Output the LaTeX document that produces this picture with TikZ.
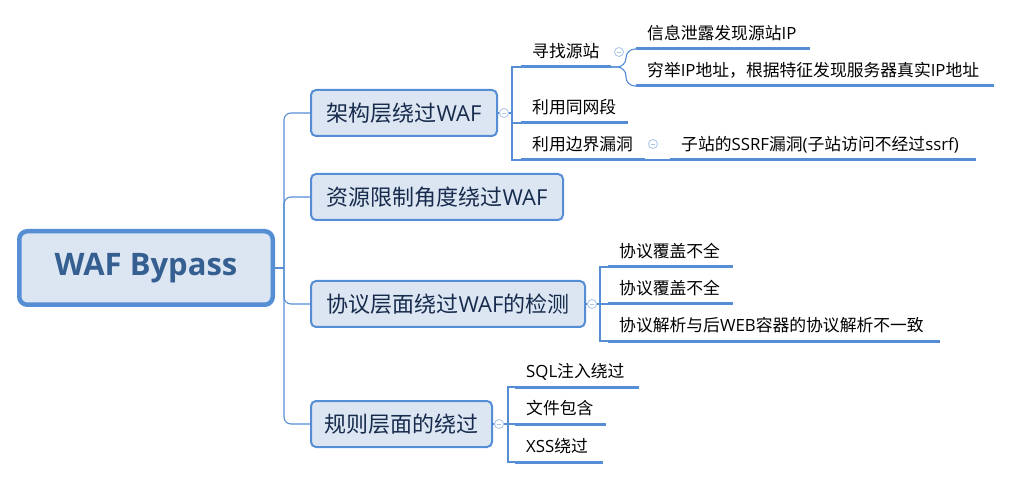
\documentclass[tikz,border=0pt]{standalone}
\usepackage{fontspec}
\setmainfont{Open Sans}
\newfontfamily\cjk{Noto Sans CJK SC}
\newcommand\zh[1]{{\cjk #1}}
\definecolor{mblue}{RGB}{85,142,213}
\definecolor{mfill}{RGB}{220,230,242}
\definecolor{cring}{RGB}{170,196,232}
\definecolor{ltext}{RGB}{23,43,77}
\definecolor{rtext}{RGB}{54,95,145}
\tikzset{
  conn/.style={draw=mblue, line width=1.1pt},
  ul/.style={draw=mblue, line width=3pt},
  rootbox/.style={draw=mblue, fill=mfill, line width=4.5pt, rounded corners=8pt,
    minimum width=253.5pt, minimum height=73.5pt, inner sep=0pt,
    font=\fontsize{31}{36}\selectfont\bfseries, text=rtext},
  topic/.style={draw=mblue, fill=mfill, line width=2pt, rounded corners=5pt,
    minimum height=46pt, anchor=west, inner sep=0pt,
    font=\fontsize{22}{26}\selectfont, text=ltext},
  leaf/.style={anchor=south west, inner xsep=11pt, inner ysep=0pt,
    text height=13pt, text depth=9.5pt, font=\fontsize{16.8}{20}\selectfont, text=black},
  fold/.style={circle, draw=cring, fill=white, line width=0.8pt, minimum size=9pt, inner sep=0pt,
    path picture={\draw[cring, line width=0.8pt]
      ([xshift=-2.3pt]path picture bounding box.center) --
      ([xshift=2.3pt]path picture bounding box.center);}}
}
\newcommand\leaf[5]{\node[leaf] (#1) at (#2,#3) {#5};
  \draw[ul] (#1.south west) -- ++(#4,0) coordinate (#1e);}
\begin{document}
\begin{tikzpicture}[x=1pt,y=-1pt]
\useasboundingbox (0,0) rectangle (1012,478);
% root
\node[rootbox] (root) at (146,268) {WAF Bypass};
% main topics
\node[topic, minimum width=186pt] (b1) at (310,113) {\zh{架构层绕过}WAF};
\node[topic, minimum width=252pt] (b2) at (310,197) {\zh{资源限制角度绕过}WAF};
\node[topic, minimum width=274pt] (b3) at (310,304) {\zh{协议层面绕过}WAF\zh{的检测}};
\node[topic, minimum width=181pt] (b4) at (310,424) {\zh{规则层面的绕过}};
% trunk
\coordinate (trunk) at (284,268);
\draw[conn] (root.east) -- (trunk);
\foreach \b in {b1,b2,b3,b4}{\draw[conn, rounded corners=7pt] (trunk) |- (\b.west);}
% leaves of b1
\leaf{c1}{521}{67}{90}{\zh{寻找源站}}
\leaf{c2}{521}{123}{107}{\zh{利用同网段}}
\leaf{c3}{521}{160}{124}{\zh{利用边界漏洞}}
\leaf{g1}{636}{49}{174}{\zh{信息泄露发现源站}IP}
\leaf{g2}{636}{86}{358}{\zh{穷举}IP\zh{地址，根据特征发现服务器真实}IP\zh{地址}}
\leaf{s1}{670}{160}{306}{\zh{子站的}SSRF\zh{漏洞}(\zh{子站访问不经过}ssrf)}
% leaves of b3
\leaf{p1}{608}{267}{125}{\zh{协议覆盖不全}}
\leaf{p2}{608}{304}{125}{\zh{协议覆盖不全}}
\leaf{p3}{608}{341}{332}{\zh{协议解析与后}WEB\zh{容器的协议解析不一致}}
% leaves of b4
\leaf{r1}{515}{387}{124}{SQL\zh{注入绕过}}
\leaf{r2}{515}{424}{91}{\zh{文件包含}}
\leaf{r3}{515}{462}{88}{XSS\zh{绕过}}
% connectors
\foreach \c in {c1,c2,c3}{\draw[conn] (b1.east) -- ++(14,0) |- (\c.south west);}
\foreach \c in {g1,g2}{\draw[conn, rounded corners=9pt] (c1e) -- ++(15,0) |- (\c.south west);}
\draw[conn] (c3e) -- (s1.south west);
\foreach \c in {p1,p2,p3}{\draw[conn] (b3.east) -- ++(14,0) |- (\c.south west);}
\foreach \c in {r1,r2,r3}{\draw[conn] (b4.east) -- ++(15,0) |- (\c.south west);}
% fold markers
\node[fold] (f1) at (504,113) {};
\node[fold] (f2) at (619,52) {};
\node[fold] (f3) at (653,144) {};
\node[fold] (f4) at (592,304) {};
\node[fold] (f5) at (499,424) {};
\end{tikzpicture}
\end{document}
